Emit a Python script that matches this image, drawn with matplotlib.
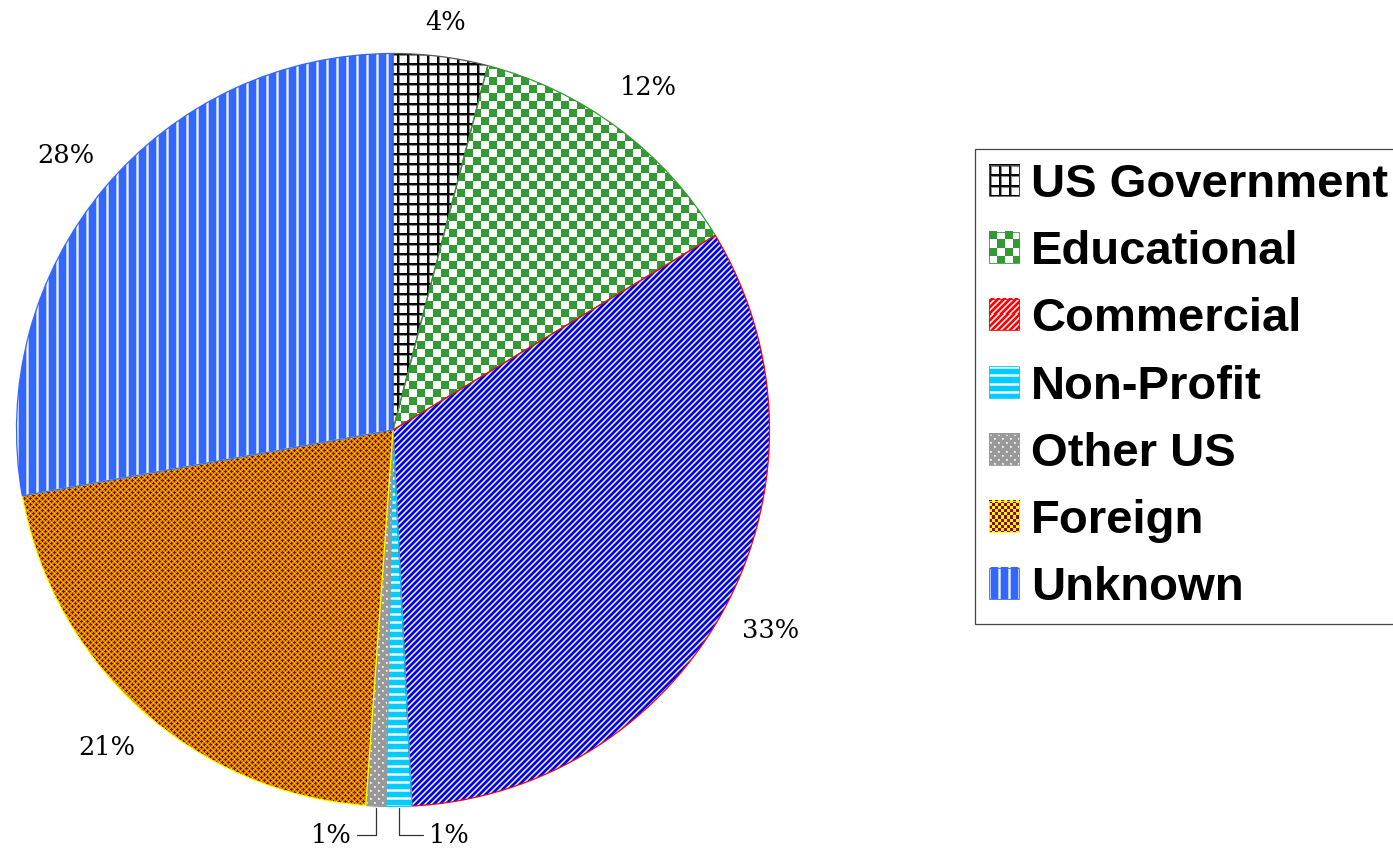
import numpy as np
import matplotlib
matplotlib.use('Agg')
import matplotlib.pyplot as plt
from matplotlib.patches import Patch, Rectangle
from matplotlib.legend_handler import HandlerBase
from matplotlib.image import BboxImage
from matplotlib.transforms import Bbox, TransformedBbox

# data
categories = ['US Government', 'Educational', 'Commercial', 'Non-Profit',
              'Other US', 'Foreign', 'Unknown']
shares = [4.05, 12.3, 32.85, 1.1, 0.85, 21.05, 27.8]
edge_colors = ['#555555', '#339933', '#ff0000', '#00ccff', '#999999',
               '#ffff00', '#3366ff']


# --- fill patterns (small pixel tiles) ---
def c(h):
    h = h.lstrip('#')
    return np.array([int(h[i:i + 2], 16) / 255 for i in (0, 2, 4)])


def tile_grid():
    t = np.ones((10, 10, 3))
    for k, v in [(0, 0.0), (1, 0.05), (2, 0.55)]:
        t[k, :, :] = np.minimum(t[k, :, :], v)
        t[:, k, :] = np.minimum(t[:, k, :], v)
    return t


def tile_checker():
    t = np.ones((16, 16, 3))
    g = c('#339933')
    t[:8, :8] = g
    t[8:, 8:] = g
    return t


def tile_diag(base='#0000ff', light=(0.55, 0.55, 1.0)):
    t = np.zeros((6, 6, 3)) + c(base)
    for r in range(6):
        for cc in range(6):
            k = (r + cc) % 6
            if k == 0:
                t[r, cc] = [0.97, 0.95, 1.0]
            elif k in (1, 5):
                t[r, cc] = light
    return t


def tile_hstripe():
    t = np.zeros((8, 8, 3)) + c('#00ccff')
    t[0] = [0.7, 0.93, 1.0]
    t[1] = [1, 1, 1]
    t[2] = [0.7, 0.93, 1.0]
    return t


def tile_dots():
    t = np.zeros((8, 8, 3)) + c('#999999')
    for (r, cc) in [(1, 1), (5, 5)]:
        t[r:r + 2, cc:cc + 2] = [0.85, 0.85, 0.85]
        t[r, cc] = [1, 1, 1]
    return t


def tile_foreign():
    t = np.zeros((6, 6, 3)) + c('#d08e00')
    red = c('#990000')
    for (r, cc) in [(1, 1), (4, 4)]:
        for dr, dc in [(0, 0), (1, 0), (-1, 0), (0, 1), (0, -1)]:
            t[(r + dr) % 6, (cc + dc) % 6] = red
    for (r, cc) in [(1, 4), (4, 1)]:
        t[r, cc] = c('#ffee00')
    return t


def tile_foreign_legend():
    t = np.zeros((6, 6, 3)) + c('#ffff00')
    red = c('#990000')
    t[0:3, 0:3] = red
    t[3:6, 3:6] = red
    return t


def tile_vstripe():
    t = np.zeros((10, 10, 3)) + c('#3366ff')
    t[:, 0] = [0.95, 0.96, 1.0]
    t[:, 1] = [0.7, 0.78, 1.0]
    t[:, 9] = [0.7, 0.78, 1.0]
    return t


tiles = [tile_grid(), tile_checker(), tile_diag(), tile_hstripe(),
         tile_dots(), tile_foreign(), tile_vstripe()]
legend_tiles = [tile_grid(), tile_checker(), tile_diag('#ff0000', (1.0, 0.6, 0.6)),
                tile_hstripe(), tile_dots(), tile_foreign_legend(), tile_vstripe()]


def fill(tile, h, w):
    th, tw = tile.shape[:2]
    return np.tile(tile, (h // th + 1, w // tw + 1, 1))[:h, :w]


# --- figure ---
fig = plt.figure(figsize=(13.93, 8.52), dpi=100)
ax = fig.add_axes([16.5 / 1393, 45.5 / 852, 753 / 1393, 753 / 852])

wedges, _ = ax.pie(shares, startangle=90, counterclock=False, radius=1,
                   wedgeprops=dict(linewidth=0.9, facecolor='none'))
ax.set_xlim(-1, 1)
ax.set_ylim(-1, 1)
ax.set_aspect('equal')
ax.axis('off')

for w, t, ec in zip(wedges, tiles, edge_colors):
    w.set_edgecolor(ec)
    w.set_zorder(3)
    im = ax.imshow(fill(t, 753, 753), extent=[-1, 1, -1, 1],
                   interpolation='nearest', zorder=1)
    im.set_clip_path(w)

# percentage labels
cum = np.cumsum(shares) - np.array(shares) / 2
mids = np.deg2rad(90 - 3.6 * cum)
lab_font = dict(family='DejaVu Serif', size=18.5)
leader = dict(arrowstyle='-', color='#333333', lw=0.9, shrinkA=2, shrinkB=0,
              connectionstyle='angle,angleA=0,angleB=90,rad=0')
for i, (v, a) in enumerate(zip(shares, mids)):
    txt = '%.0f%%' % v
    if categories[i] == 'Non-Profit':
        ax.annotate(txt, xy=(np.cos(a), np.sin(a) - 0.005), xytext=(0.095, -1.076),
                    ha='left', va='center', annotation_clip=False,
                    arrowprops=leader, **lab_font)
    elif categories[i] == 'Other US':
        ax.annotate(txt, xy=(np.cos(a), np.sin(a) - 0.005), xytext=(-0.11, -1.076),
                    ha='right', va='center', annotation_clip=False,
                    arrowprops=leader, **lab_font)
    else:
        r = 1.09 if v < 8 else 1.135
        ax.text(r * np.cos(a), r * np.sin(a), txt, ha='center', va='center',
                **lab_font)


# legend with pattern swatches
class TileHandler(HandlerBase):
    def __init__(self, tile, ec):
        super().__init__()
        self.tile = tile
        self.ec = ec

    def create_artists(self, legend, orig_handle, xdescent, ydescent,
                       width, height, fontsize, trans):
        bb = TransformedBbox(Bbox.from_bounds(-xdescent, -ydescent, width, height), trans)
        img = BboxImage(bb, interpolation='nearest')
        img.set_data(fill(self.tile, 31, 31))
        rect = Rectangle((-xdescent, -ydescent), width, height, facecolor='none',
                         edgecolor=self.ec, linewidth=0.6, transform=trans)
        return [img, rect]


lcols = list(edge_colors)
lcols[2] = '#ff0000'
handles = [Patch(label=n) for n in categories]
hmap = {h: TileHandler(t, ec) for h, t, ec in zip(handles, legend_tiles, lcols)}
leg = fig.legend(handles=handles, handler_map=hmap, loc='upper left',
                 bbox_to_anchor=(975 / 1393, 1 - 149 / 852), borderaxespad=0,
                 prop=dict(family='Liberation Sans', weight='bold', size=34),
                 handlelength=0.64, handleheight=0.64, handletextpad=0.24,
                 labelspacing=0.49, borderpad=0.3, fancybox=False,
                 edgecolor='#444444', framealpha=1)
leg.get_frame().set_linewidth(0.9)

fig.savefig('out.png', dpi=100)
